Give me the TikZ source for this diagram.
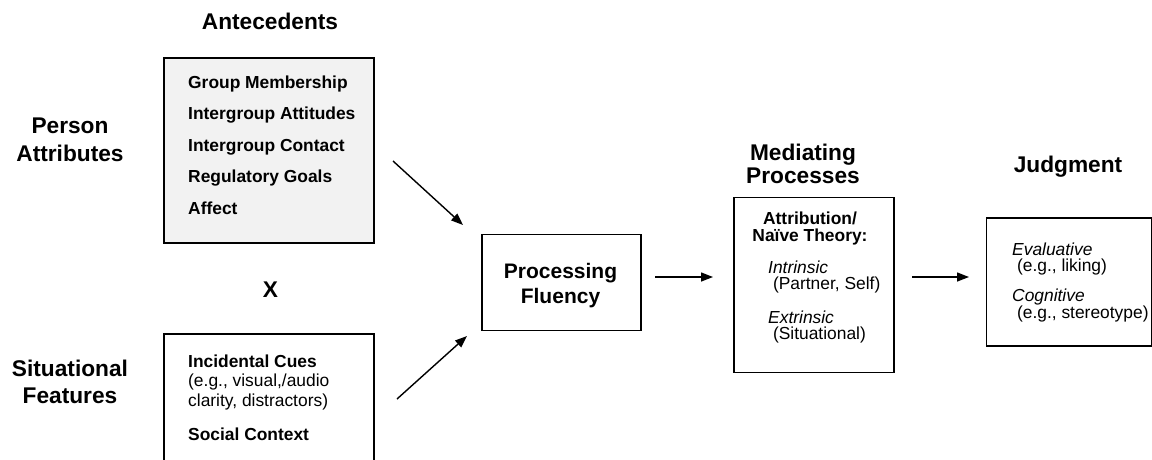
\documentclass[tikz,border=0pt]{standalone}
\usepackage{fontspec}
\setmainfont{Liberation Sans}
\usetikzlibrary{arrows.meta}
\definecolor{boxgray}{HTML}{F2F2F2}
\newcommand\fH{\fontsize{22.7}{27}\selectfont\bfseries}
\newcommand\fP{\fontsize{21}{25}\selectfont\bfseries}
\newcommand\fB{\fontsize{17.4}{20}\selectfont}
\begin{document}
\begin{tikzpicture}[x=1pt,y=-1pt,
  box/.style={draw=black,line width=1.5pt,inner sep=0pt,anchor=north west},
  heading/.style={anchor=base,inner sep=0pt,font=\fH},
  itemb/.style={anchor=base west,inner sep=0pt,font=\fB\bfseries},
  itemr/.style={anchor=base west,inner sep=0pt,font=\fB},
  itemc/.style={anchor=base,inner sep=0pt,font=\fB\bfseries},
  flow/.style={line width=1.4pt,-{Triangle[length=12pt,width=9pt]}}]
\clip (0,0) rectangle (1152,459);
\useasboundingbox (0,0) rectangle (1152,459);
% headings
\node[heading] (hAnte) at (270,29) {Antecedents};
\node[heading] (hPers1) at (70,133) {Person};
\node[heading] (hPers2) at (70,161) {Attributes};
\node[heading] (hX) at (270.5,297) {X};
\node[heading] (hSit1) at (70,376) {Situational};
\node[heading] (hSit2) at (70,403) {Features};
\node[heading] (hMed1) at (803,160) {Mediating};
\node[heading] (hMed2) at (803,183) {Processes};
\node[heading] (hJudg) at (1068,172) {Judgment};
% boxes
\node[box,fill=boxgray,minimum width=210pt,minimum height=185pt] (ante) at (163,57) {};
\node[box,minimum width=210pt,minimum height=140pt] (sit) at (163,333) {};
\node[box,minimum width=159pt,minimum height=96pt] (pf) at (481,233.5) {};
\node[box,minimum width=160pt,minimum height=175pt] (med) at (733,196.5) {};
\node[box,minimum width=165pt,minimum height=128pt] (judg) at (985.5,217) {};
% antecedents text
\node[itemb] (a1) at (188,88) {Group Membership};
\node[itemb] (a2) at (188,119.5) {Intergroup Attitudes};
\node[itemb] (a3) at (188,151) {Intergroup Contact};
\node[itemb] (a4) at (188,182.5) {Regulatory Goals};
\node[itemb] (a5) at (188,214) {Affect};
% situational text
\node[itemb] (s1) at (188,367) {Incidental Cues};
\node[itemr] (s2) at (188,386.5) {(e.g., visual,/audio};
\node[itemr] (s3) at (188,406) {clarity, distractors)};
\node[itemb] (s4) at (188,440) {Social Context};
% processing fluency
\node[anchor=base,inner sep=0pt,font=\fP] (pf1) at (560.5,278) {Processing};
\node[anchor=base,inner sep=0pt,font=\fP] (pf2) at (560.5,303) {Fluency};
% mediating text
\node[itemc] (m1) at (810,224) {Attribution/};
\node[itemc] (m2) at (810,241) {Naïve Theory:};
\node[itemr,font=\fB\itshape] (m3) at (768,273) {Intrinsic};
\node[itemr] (m4) at (768,289.5) {\ (Partner, Self)};
\node[itemr,font=\fB\itshape] (m5) at (768,323) {Extrinsic};
\node[itemr] (m6) at (768,339.5) {\ (Situational)};
% judgment text
\node[itemr,font=\fB\itshape] (j1) at (1012,255) {Evaluative};
\node[itemr] (j2) at (1012,271.5) {\ (e.g., liking)};
\node[itemr,font=\fB\itshape] (j3) at (1012,301) {Cognitive};
\node[itemr] (j4) at (1012,318) {\ (e.g., stereotype)};
% arrows
\coordinate (u0) at (393,161);
\coordinate (u1) at (463,225);
\coordinate (l0) at (397,399);
\coordinate (l1) at (467,336);
\coordinate (p0) at (655,277);
\coordinate (p1) at (713,277);
\coordinate (q0) at (912,277);
\coordinate (q1) at (969,277);
\draw[flow] (u0) -- (u1);
\draw[flow] (l0) -- (l1);
\draw[flow] (p0) -- (p1);
\draw[flow] (q0) -- (q1);
\end{tikzpicture}
\end{document}
